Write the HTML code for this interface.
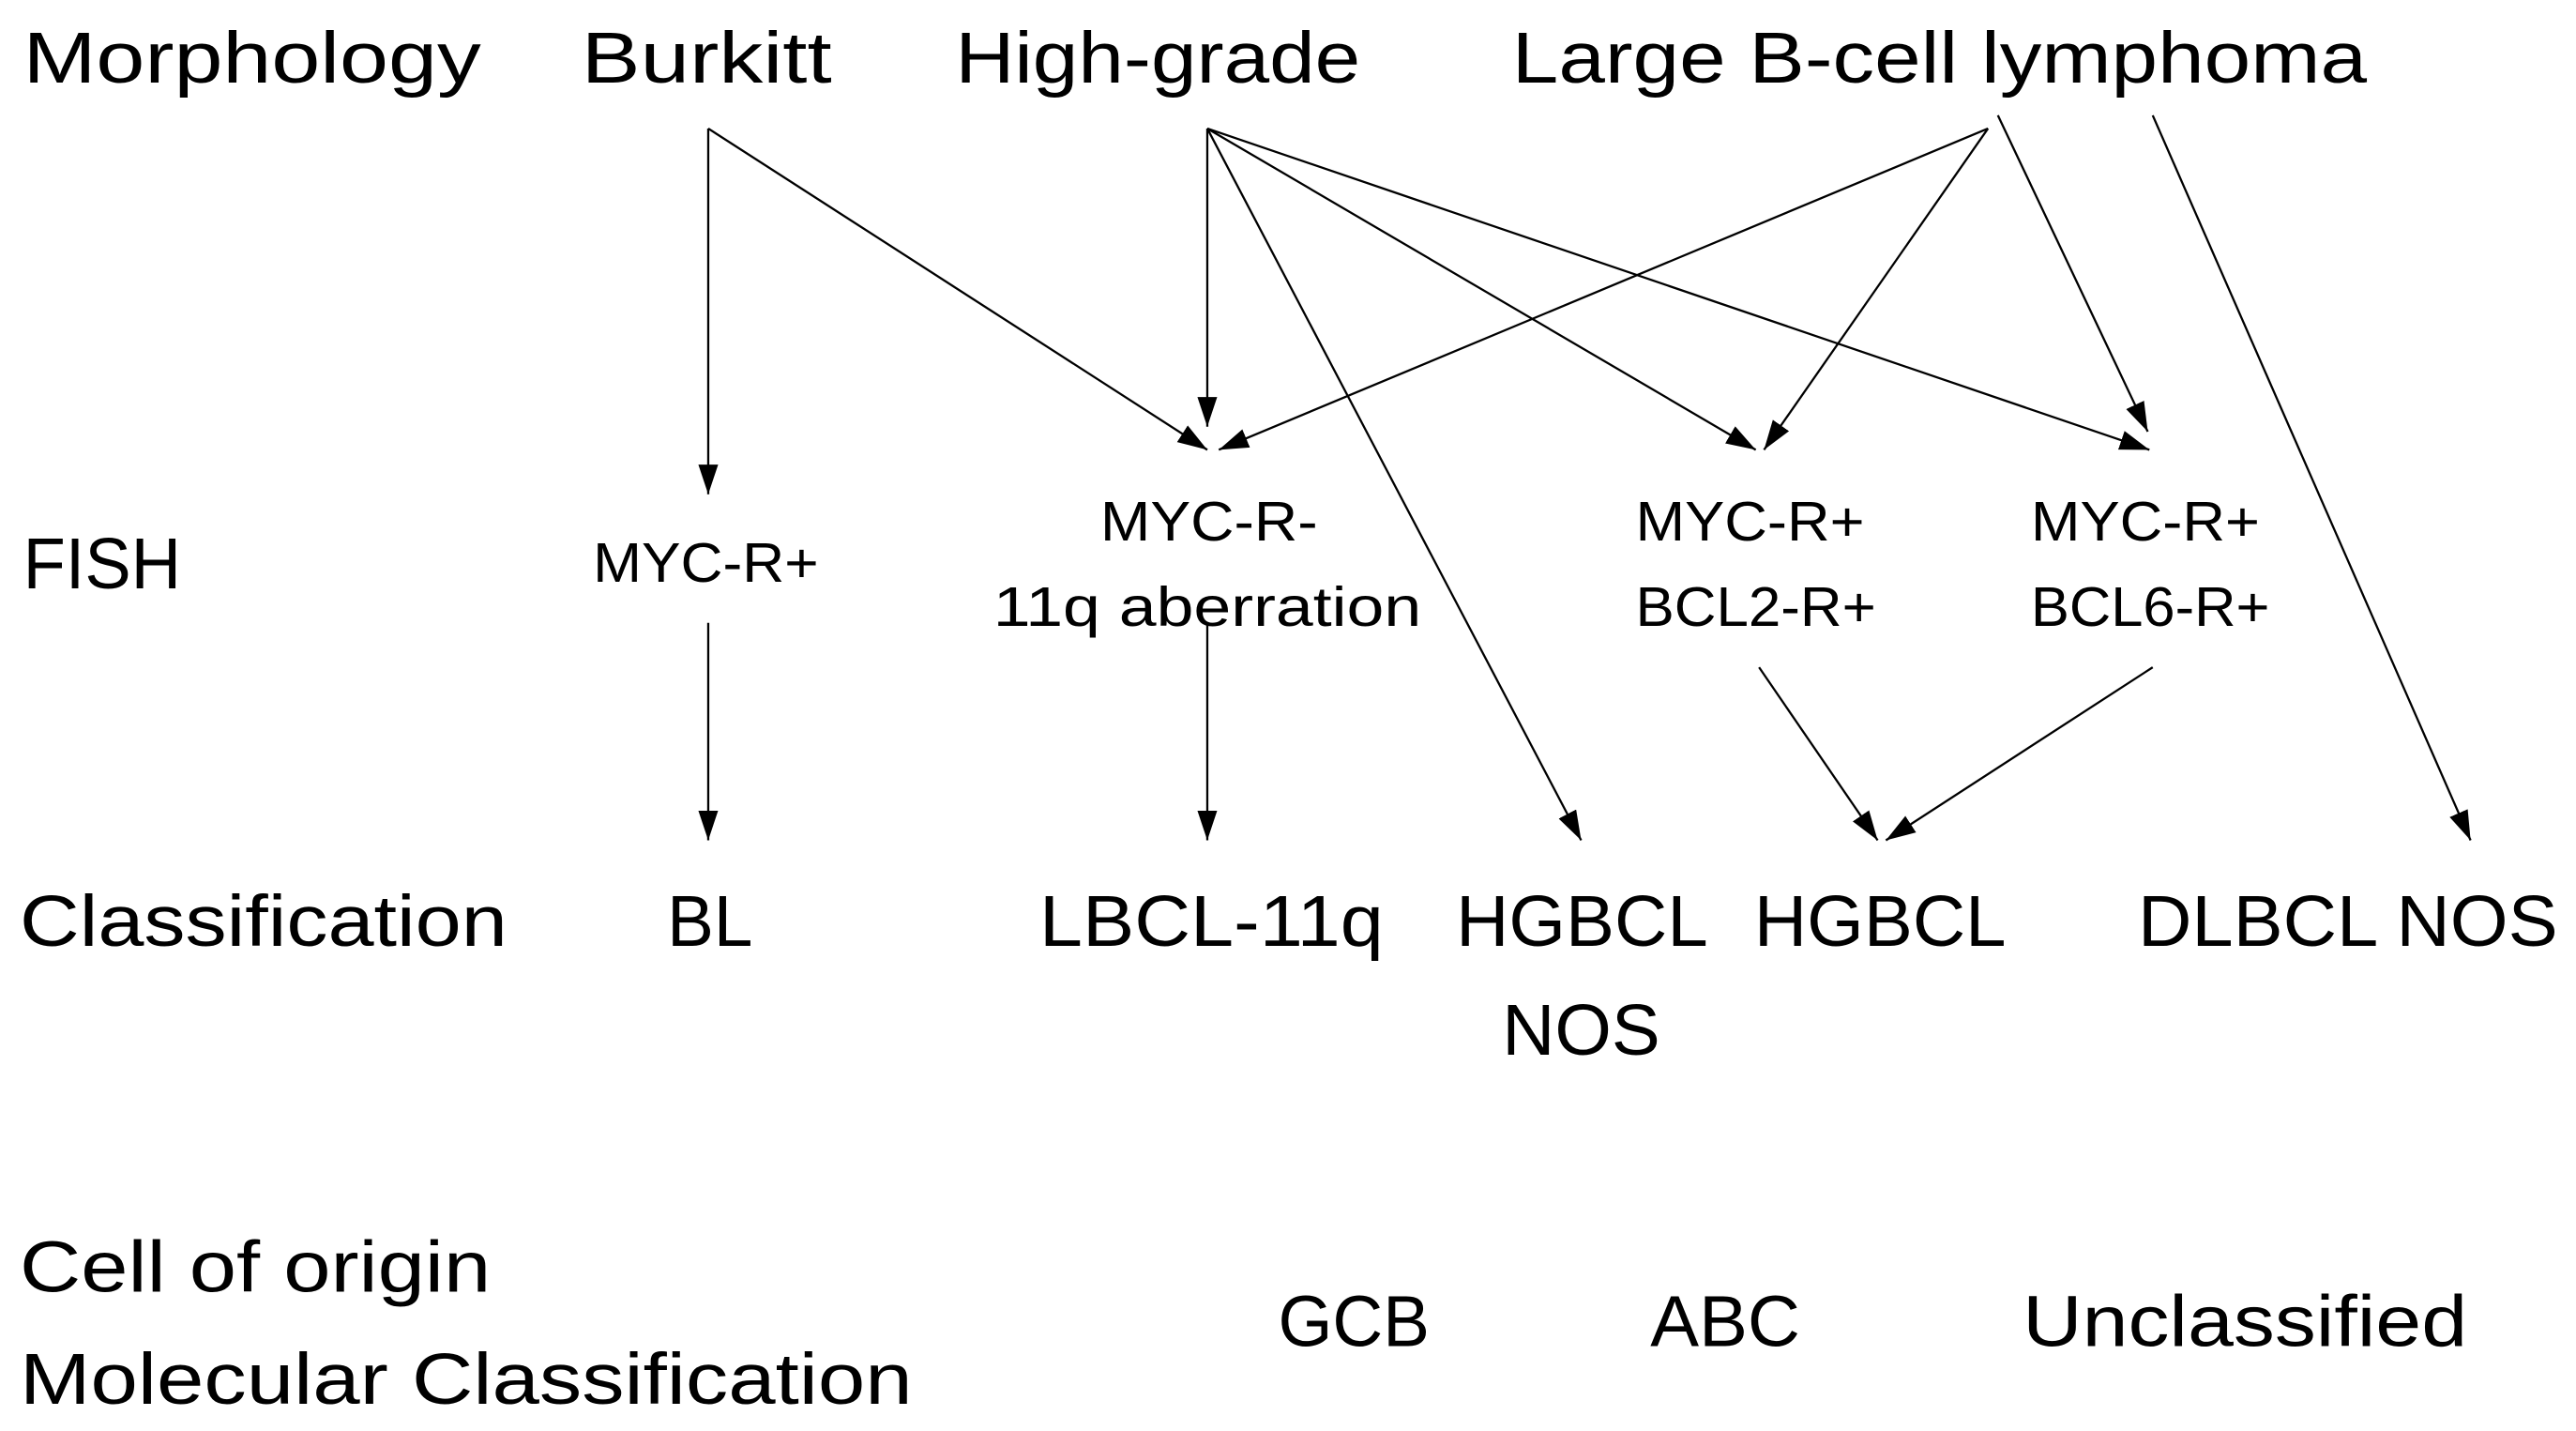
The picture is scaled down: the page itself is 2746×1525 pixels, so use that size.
<!DOCTYPE html>
<html><head><meta charset="utf-8"><style>
html,body{margin:0;padding:0;background:#fff;}
svg{display:block;}
text{font-family:"Liberation Sans",sans-serif;fill:#000;}
</style></head><body>
<svg width="2746" height="1525" viewBox="0 0 1564 868.5" preserveAspectRatio="none" xmlns="http://www.w3.org/2000/svg">
<defs>
<marker id="a" markerUnits="userSpaceOnUse" markerWidth="20" markerHeight="14" refX="18" refY="6" orient="auto">
<path d="M0,0 L18,6 L0,12 z" fill="#000"/>
</marker>
</defs>
<g font-size="44">
<text x="14" y="50" textLength="278" lengthAdjust="spacingAndGlyphs">Morphology</text>
<text x="353" y="50" textLength="152" lengthAdjust="spacingAndGlyphs">Burkitt</text>
<text x="580" y="50" textLength="246" lengthAdjust="spacingAndGlyphs">High-grade</text>
<text x="918" y="50" textLength="519" lengthAdjust="spacingAndGlyphs">Large B-cell lymphoma</text>
<text x="14" y="357" textLength="96" lengthAdjust="spacingAndGlyphs">FISH</text>
<text x="12" y="574" textLength="296" lengthAdjust="spacingAndGlyphs">Classification</text>
<text x="405" y="574" textLength="52" lengthAdjust="spacingAndGlyphs">BL</text>
<text x="631" y="574" textLength="209" lengthAdjust="spacingAndGlyphs">LBCL-11q</text>
<text x="884" y="574" textLength="153" lengthAdjust="spacingAndGlyphs">HGBCL</text>
<text x="912" y="640" textLength="96" lengthAdjust="spacingAndGlyphs">NOS</text>
<text x="1065" y="574" textLength="153" lengthAdjust="spacingAndGlyphs">HGBCL</text>
<text x="1298" y="574" textLength="255" lengthAdjust="spacingAndGlyphs">DLBCL NOS</text>
<text x="12" y="784" textLength="286" lengthAdjust="spacingAndGlyphs">Cell of origin</text>
<text x="12" y="852" textLength="542" lengthAdjust="spacingAndGlyphs">Molecular Classification</text>
<text x="776" y="817" textLength="92" lengthAdjust="spacingAndGlyphs">GCB</text>
<text x="1002" y="817" textLength="91" lengthAdjust="spacingAndGlyphs">ABC</text>
<text x="1228" y="817" textLength="270" lengthAdjust="spacingAndGlyphs">Unclassified</text>
</g>
<g font-size="34">
<text x="360" y="353" textLength="137" lengthAdjust="spacingAndGlyphs">MYC-R+</text>
<text x="668" y="328" textLength="132" lengthAdjust="spacingAndGlyphs">MYC-R-</text>
<text x="603" y="380" textLength="260" lengthAdjust="spacingAndGlyphs">11q aberration</text>
<text x="993" y="328" textLength="139" lengthAdjust="spacingAndGlyphs">MYC-R+</text>
<text x="993" y="380" textLength="146" lengthAdjust="spacingAndGlyphs">BCL2-R+</text>
<text x="1233" y="328" textLength="139" lengthAdjust="spacingAndGlyphs">MYC-R+</text>
<text x="1233" y="380" textLength="145" lengthAdjust="spacingAndGlyphs">BCL6-R+</text>
</g>
<g stroke="#000" stroke-width="1.3" fill="none" marker-end="url(#a)">
<line x1="430" y1="78" x2="430" y2="300"/>
<line x1="430" y1="78" x2="733" y2="273"/>
<line x1="733" y1="78" x2="733" y2="259"/>
<line x1="733" y1="78" x2="960" y2="510"/>
<line x1="733" y1="78" x2="1066" y2="273"/>
<line x1="733" y1="78" x2="1305" y2="273"/>
<line x1="1207" y1="78" x2="740" y2="273"/>
<line x1="1207" y1="78" x2="1071" y2="273"/>
<line x1="1213" y1="70" x2="1304" y2="262"/>
<line x1="1307" y1="70" x2="1500" y2="510"/>
<line x1="430" y1="378" x2="430" y2="510"/>
<line x1="733" y1="378" x2="733" y2="510"/>
<line x1="1068" y1="405" x2="1140" y2="510"/>
<line x1="1307" y1="405" x2="1145" y2="510"/>
</g>
</svg>
</body></html>
